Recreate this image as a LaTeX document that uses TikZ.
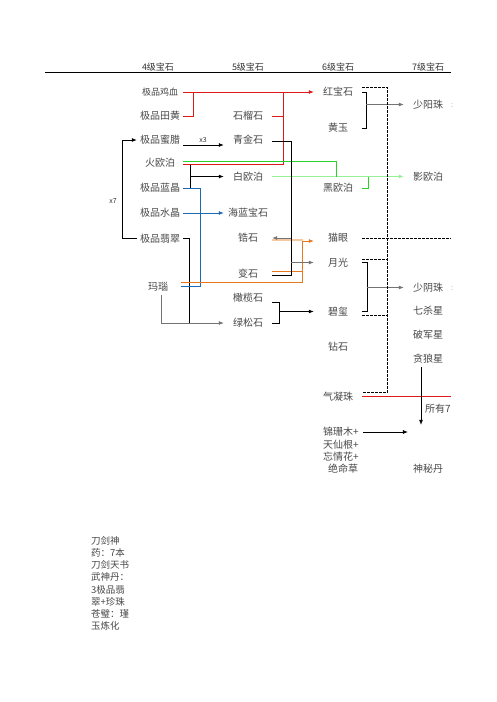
\documentclass[tikz,border=0pt]{standalone}
\usepackage{fontspec}
\setmainfont{Noto Sans CJK SC}
\usetikzlibrary{arrows.meta,positioning}
\definecolor{gemred}{RGB}{220,24,24}
\definecolor{gemgreen}{RGB}{40,210,40}
\definecolor{paleg}{RGB}{150,240,150}
\definecolor{gemblue}{RGB}{30,105,180}
\definecolor{gemorange}{RGB}{232,120,30}
\definecolor{paleo}{RGB}{248,200,160}

\begin{document}
\begin{tikzpicture}[x=1pt,y=-1pt,
    gem/.style={inner sep=0pt,minimum width=48pt,text=black!72,font=\fontsize{10}{12}\selectfont},
    gemfour/.style={gem,minimum width=46pt},
    herb/.style={inner sep=0pt,text=black!72,font=\fontsize{10}{12}\selectfont},
    head/.style={inner sep=0pt,text=black!80,font=\fontsize{9}{11}\selectfont},
    tag/.style={inner sep=0pt,text=black!80,font=\fontsize{7}{8}\selectfont},
    link/.style={line width=0.8pt,black},
    greyln/.style={line width=0.8pt,black!55},
    redln/.style={line width=0.8pt,gemred},
    greenln/.style={line width=0.8pt,gemgreen},
    paleln/.style={line width=1pt,paleg},
    blueln/.style={line width=0.8pt,gemblue},
    orangeln/.style={line width=0.8pt,gemorange},
    paleoln/.style={line width=1.2pt,paleo},
    dashln/.style={line width=0.8pt,black,dash pattern=on 2.5pt off 1.5pt},
    tip/.style={-{Latex[length=5pt,width=4pt]}}
  ]
  \useasboundingbox (0,0) rectangle (496,702);

  % header
  \node[head] (hfour) at (158,67) {4级宝石};
  \node[head] (hfive) at (248,67) {5级宝石};
  \node[head] (hsix) at (338,67) {6级宝石};
  \node[head] (hseven) at (428,67) {7级宝石};
  \coordinate (rimleft) at (45,72);
  \coordinate (rim) at (451,72);
  \draw[line width=0.8pt] (rimleft) -- (rim);

  % level 4
  \node[gemfour,font=\fontsize{9}{11}\selectfont] (jixue) at (160,92) {极品鸡血};
  \node[gemfour] (tianhuang) at (160,116) {极品田黄};
  \node[gemfour] (mila) at (160,140) {极品蜜腊};
  \node[gemfour] (huoou) at (160,162.5) {火欧泊};
  \node[gemfour] (lanjing) at (160,188) {极品蓝晶};
  \node[gemfour] (shuijing) at (160,213) {极品水晶};
  \node[gemfour] (feicui) at (160,238.5) {极品翡翠};
  \node[gemfour] (manao) at (158,287) {玛瑙};

  % level 5
  \node[gem] (shiliu) at (248,116) {石榴石};
  \node[gem] (qingjin) at (248,140) {青金石};
  \node[gem] (baiou) at (248,176.5) {白欧泊};
  \node[gem] (hailan) at (248,213) {海蓝宝石};
  \node[gem] (gaoshi) at (248,238) {锆石};
  \node[gem] (bianshi) at (248,274) {变石};
  \node[gem] (ganlan) at (248,298) {橄榄石};
  \node[gem] (lvsong) at (248,323) {绿松石};

  % level 6
  \node[gem] (hongbao) at (338,92) {红宝石};
  \node[gem] (huangyu) at (338,128) {黄玉};
  \node[gem] (heiou) at (338,188) {黑欧泊};
  \node[gem] (maoyan) at (338,238) {猫眼};
  \node[gem] (yueguang) at (338,262.5) {月光};
  \node[gem] (bixi) at (338,311.5) {碧玺};
  \node[gem] (zuanshi) at (338,347) {钻石};
  \node[gem] (qining) at (338,396.5) {气凝珠};
  \node[herb] (herbone) at (341,432) {锦珊木+};
  \node[herb] (herbtwo) at (341,444.5) {天仙根+};
  \node[herb] (herbthree) at (341,457) {忘情花+};
  \node[herb] (herbfour) at (343,469) {绝命草};

  % level 7
  \node[gem] (shaoyang) at (428,104.5) {少阳珠};
  \node[gem] (yingou) at (428,176.5) {影欧泊};
  \node[gem] (shaoyin) at (428,287.5) {少阴珠};
  \node[gem] (qisha) at (428,311) {七杀星};
  \node[gem] (pojun) at (428,335) {破军星};
  \node[gem] (tanlang) at (428,359) {贪狼星};
  \node[herb,anchor=west] (suoyou) at (425,409) {所有7};
  \node[gem] (shenmi) at (428,469) {神秘丹};
  \node[tag,text=black!50] (yangtail) at (452,106) {:};
  \node[tag,text=black!50] (yintail) at (452,289) {:};

  \node[tag] (xthree) at (203,140) {x3};
  \node[tag] (xseven) at (113,201) {x7};

  % red
  \draw[redln,tip] (jixue.east) -- (hongbao.west);
  \draw[redln] (tianhuang.east) -| ([xshift=10pt]jixue.east);
  \draw[redln] ([yshift=-1.5pt]huoou.east) -| ([xshift=100pt]jixue.east);
  \draw[redln] (shiliu.east) -- ++(11,0);

  % green
  \draw[paleln,tip] (baiou.east) -- (yingou.west);
  \draw[greenln] ([yshift=1.5pt]huoou.east) -| ([xshift=64pt]baiou.east);
  \draw[greenln] (heiou.east) -| ([xshift=6pt]heiou.east |- baiou.east);

  % black, level 4 to 5
  \draw[link,tip] ([yshift=-5pt]mila.east) -- ([yshift=-5pt]qingjin.west);
  \draw[link,tip] (feicui.west) -- ++(-14,0) |- (mila.west);
  \draw[link] ([xshift=7pt,yshift=-2pt]huoou.east) -- ([xshift=7pt]huoou.east |- lanjing.east);
  \draw[link,tip] ([xshift=7pt]huoou.east |- baiou.west) -- (baiou.west);
  \draw[greyln,tip] ([xshift=3pt,yshift=-3pt]manao.south) |- (lvsong.west);
  \draw[link] (feicui.east) -- ++(6,0) coordinate (fcturn) -- (fcturn |- lvsong.west);

  % blue
  \draw[blueln] (lanjing.east) -- ++(17,0) |- ([yshift=1pt]manao.east);
  \draw[blueln,tip] (shuijing.east) -- (hailan.west);

  % orange
  \draw[paleoln] ([yshift=-2pt]gaoshi.east) -- ++(31,0);
  \draw[orangeln,tip] ([yshift=5pt]manao.east) -| ([xshift=-11pt,yshift=-3pt]maoyan.west) -- ([yshift=-3pt]maoyan.west);
  \draw[orangeln] ([yshift=3pt]bianshi.east) -- ++(31,0);

  % black, level 5 to 6
  \draw[link] ([yshift=-1pt]qingjin.east) -- ++(19,0) coordinate (qjturn) |- ([yshift=-1pt]bianshi.east);
  \draw[greyln,tip] (gaoshi.east -| qjturn) -- (gaoshi.east);
  \draw[greyln,tip] (yueguang.west -| qjturn) -- (yueguang.west);
  \draw[link] ([yshift=-4pt]ganlan.east) -- ++(7,0) |- (lvsong.east);
  \draw[link,tip] ([xshift=7pt]ganlan.east |- bixi.west) -- (bixi.west);

  % level 6 to 7
  \draw[link] (hongbao.east) -- ++(4,0) |- (huangyu.east);
  \draw[greyln,tip] ([xshift=4pt]hongbao.east |- shaoyang.west) -- (shaoyang.west);
  \draw[link] (yueguang.east) -- ++(5,0) |- (bixi.east);
  \draw[greyln,tip] ([xshift=5pt]yueguang.east |- shaoyin.west) -- (shaoyin.west);

  % dashed frame
  \draw[dashln] ([yshift=5pt]hongbao.east) -- ++(25,0) |- ([yshift=4pt]qining.east);
  \draw[dashln] ([yshift=3.5pt]yueguang.east) -- ++(25,0);
  \draw[dashln] ([yshift=-3.5pt]bixi.east) -- ++(25,0);
  \draw[dashln] (maoyan.east) -- (maoyan.east -| rim);

  \draw[redln] (qining.east) -- (qining.east -| rim);
  \draw[link,tip] ([xshift=-7pt,yshift=-3pt]tanlang.south) -- ++(0,58);
  \draw[link,tip] ([xshift=4pt]herbone.east) -- ++(45,0);

  % notes
  \node[herb,anchor=north west,align=left,font=\fontsize{9.5}{12.2}\selectfont] (notes) at (91,536)
    {刀剑神\\药：7本\\刀剑天书\\武神丹：\\3极品翡\\翠+珍珠\\苍璧：瑾\\玉炼化};
\end{tikzpicture}
\end{document}
